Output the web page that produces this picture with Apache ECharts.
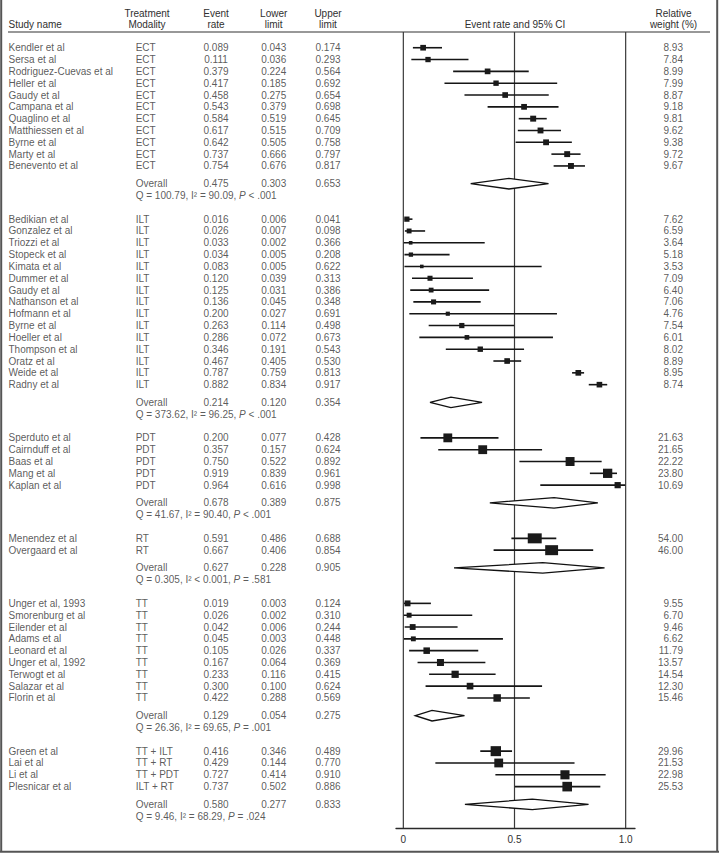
<!DOCTYPE html>
<html><head><meta charset="utf-8">
<script src="https://cdn.jsdelivr.net/npm/echarts@6/dist/echarts.min.js"></script>
<style>html,body{margin:0;padding:0;background:#fff}#c{width:719px;height:853px}</style>
</head><body><div id="c"></div><script>
// ---------- data ----------
const studyNames = [
 'Kendler et al','Sersa et al','Rodriguez-Cuevas et al','Heller et al','Gaudy et al','Campana et al','Quaglino et al','Matthiessen et al','Byrne et al','Marty et al','Benevento et al',
 'Bedikian et al','Gonzalez et al','Triozzi et al','Stopeck et al','Kimata et al','Dummer et al','Gaudy et al','Nathanson et al','Hofmann et al','Byrne et al','Hoeller et al','Thompson et al','Oratz et al','Weide et al','Radny et al',
 'Sperduto et al','Cairnduff et al','Baas et al','Mang et al','Kaplan et al',
 'Menendez et al','Overgaard et al',
 'Unger et al, 1993','Smorenburg et al','Eilender et al','Adams et al','Leonard et al','Unger et al, 1992','Terwogt et al','Salazar et al','Florin et al',
 'Green et al','Lai et al','Li et al','Plesnicar et al'];
const modality = [
 'ECT','ECT','ECT','ECT','ECT','ECT','ECT','ECT','ECT','ECT','ECT',
 'ILT','ILT','ILT','ILT','ILT','ILT','ILT','ILT','ILT','ILT','ILT','ILT','ILT','ILT','ILT',
 'PDT','PDT','PDT','PDT','PDT',
 'RT','RT',
 'TT','TT','TT','TT','TT','TT','TT','TT','TT',
 'TT + ILT','TT + RT','TT + PDT','ILT + RT'];
const eventRate = [
 0.089,0.111,0.379,0.417,0.458,0.543,0.584,0.617,0.642,0.737,0.754,
 0.016,0.026,0.033,0.034,0.083,0.120,0.125,0.136,0.200,0.263,0.286,0.346,0.467,0.787,0.882,
 0.200,0.357,0.750,0.919,0.964,
 0.591,0.667,
 0.019,0.026,0.042,0.045,0.105,0.167,0.233,0.300,0.422,
 0.416,0.429,0.727,0.737];
const lowerLimit = [
 0.043,0.036,0.224,0.185,0.275,0.379,0.519,0.515,0.505,0.666,0.676,
 0.006,0.007,0.002,0.005,0.005,0.039,0.031,0.045,0.027,0.114,0.072,0.191,0.405,0.759,0.834,
 0.077,0.157,0.522,0.839,0.616,
 0.486,0.406,
 0.003,0.002,0.006,0.003,0.026,0.064,0.116,0.100,0.288,
 0.346,0.144,0.414,0.502];
const upperLimit = [
 0.174,0.293,0.564,0.692,0.654,0.698,0.645,0.709,0.758,0.797,0.817,
 0.041,0.098,0.366,0.208,0.622,0.313,0.386,0.348,0.691,0.498,0.673,0.543,0.530,0.813,0.917,
 0.428,0.624,0.892,0.961,0.998,
 0.688,0.854,
 0.124,0.310,0.244,0.448,0.337,0.369,0.415,0.624,0.569,
 0.489,0.770,0.910,0.886];
const relWeight = [
 8.93,7.84,8.99,7.99,8.87,9.18,9.81,9.62,9.38,9.72,9.67,
 7.62,6.59,3.64,5.18,3.53,7.09,6.40,7.06,4.76,7.54,6.01,8.02,8.89,8.95,8.74,
 21.63,21.65,22.22,23.80,10.69,
 54.00,46.00,
 9.55,6.70,9.46,6.62,11.79,13.57,14.54,12.30,15.46,
 29.96,21.53,22.98,25.53];
const groupSizes = [11,15,5,2,9,4];
const overallRate  = [0.475,0.214,0.678,0.627,0.129,0.580];
const overallLower = [0.303,0.120,0.389,0.228,0.054,0.277];
const overallUpper = [0.653,0.354,0.875,0.905,0.275,0.833];
const qStat  = ['100.79','373.62','41.67','0.305','26.36','9.46'];
const i2Stat = ['= 90.09','= 96.25','= 90.40','< 0.001','= 69.65','= 68.29'];
const pStat  = ['< .001','< .001','< .001','= .581','= .001','= .024'];
const xTicks = [0, 0.5, 1.0];
const xTickLabels = ['0','0.5','1.0'];

// ---------- layout ----------
const FONT = '"Liberation Sans", Arial, Helvetica, sans-serif';
const TXT = '#303030';
const COL = {name: 8.5, mod: 135.7, rate: 216, lower: 273.7, upper: 328, weight: 683};
const Y_MIN = -1.33, Y_MAX = 66;
const GRID_TOP = 32, GRID_H = 796;

// row positions (layout)
const studyRow = [], overallRow = [], qRow = [];
let r = 0;
groupSizes.forEach(n => {
  for (let i = 0; i < n; i++) studyRow.push(r++);
  overallRow.push(r + 0.5);
  qRow.push(r + 1.5);
  r += 3.5;
});
const fmt = v => v.toFixed(3);

// text items
const textData = [];
function addText(x, row, text, align) {
  textData.push({value: [x, row], label: {formatter: text, align: align}});
}
studyNames.forEach((n, i) => {
  const row = studyRow[i];
  addText(COL.name, row, n, 'left');
  addText(COL.mod, row, modality[i], 'left');
  addText(COL.rate, row, fmt(eventRate[i]), 'center');
  addText(COL.lower, row, fmt(lowerLimit[i]), 'center');
  addText(COL.upper, row, fmt(upperLimit[i]), 'center');
  addText(COL.weight, row, relWeight[i].toFixed(2), 'right');
});
overallRate.forEach((v, g) => {
  addText(COL.mod, overallRow[g], 'Overall', 'left');
  addText(COL.rate, overallRow[g], fmt(v), 'center');
  addText(COL.lower, overallRow[g], fmt(overallLower[g]), 'center');
  addText(COL.upper, overallRow[g], fmt(overallUpper[g]), 'center');
  addText(COL.mod, qRow[g], '{n|Q = ' + qStat[g] + ', I² ' + i2Stat[g] + ', }{i|P}{n| ' + pStat[g] + '}', 'left');
});

const studyData = eventRate.map((v, i) => [v, lowerLimit[i], upperLimit[i], studyRow[i], relWeight[i]]);
const overallData = overallRate.map((v, g) => [v, overallLower[g], overallUpper[g], overallRow[g]]);

const chart = echarts.init(document.getElementById('c'), null, {renderer: 'svg'});
const T = (x, y, text, align) => ({type: 'text', x: x, y: y,
  style: {text: text, fill: TXT, font: '10px ' + FONT, align: align || 'center', verticalAlign: 'middle'}});
chart.setOption({
  animation: false,
  backgroundColor: '#fff',
  textStyle: {fontFamily: FONT},
  grid: [
    {left: 396, width: 239, top: GRID_TOP, height: GRID_H},
    {left: 0, width: 719, top: GRID_TOP, height: GRID_H}
  ],
  xAxis: [
    {type: 'value', gridIndex: 0, min: -0.033, max: 1.042, position: 'bottom',
     axisLine: {show: true, onZero: false, lineStyle: {color: '#2a2a2a', width: 1.3}},
     axisTick: {show: false}, splitLine: {show: false},
     axisLabel: {customValues: xTicks, formatter: v => xTickLabels[xTicks.indexOf(+(+v).toFixed(2))] ?? '',
       color: TXT, fontSize: 10, fontFamily: FONT, margin: 6}},
    {type: 'value', gridIndex: 1, min: 0, max: 719, show: false}
  ],
  yAxis: [
    {type: 'value', gridIndex: 0, min: Y_MIN, max: Y_MAX, inverse: true, show: false},
    {type: 'value', gridIndex: 1, min: Y_MIN, max: Y_MAX, inverse: true, show: false}
  ],
  series: [
    { // reference lines at 0, 0.5, 1.0
      type: 'custom', xAxisIndex: 0, yAxisIndex: 0, silent: true,
      data: xTicks.map(v => [v]),
      renderItem(params, api) {
        const a = api.coord([api.value(0), Y_MIN]);
        const b = api.coord([api.value(0), Y_MAX]);
        return {type: 'line', shape: {x1: a[0], y1: a[1], x2: b[0], y2: b[1]},
          style: {stroke: '#3a3a3a', lineWidth: 1.2}};
      }
    },
    { // study CI + square
      type: 'custom', xAxisIndex: 0, yAxisIndex: 0, silent: true,
      data: studyData,
      encode: {x: [0, 1, 2], y: 3},
      renderItem(params, api) {
        const y = api.value(3);
        const p0 = api.coord([api.value(1), y]);
        const p1 = api.coord([api.value(2), y]);
        const pc = api.coord([api.value(0), y]);
        const w = 1.9 * Math.sqrt(api.value(4));
        const h = Math.min(w, 10);
        return {type: 'group', children: [
          {type: 'line', shape: {x1: p0[0], y1: p0[1], x2: p1[0], y2: p1[1]}, style: {stroke: '#151515', lineWidth: 1.6}},
          {type: 'rect', shape: {x: pc[0] - w / 2, y: pc[1] - h / 2, width: w, height: h}, style: {fill: '#1a1a1a'}}
        ]};
      }
    },
    { // overall diamonds
      type: 'custom', xAxisIndex: 0, yAxisIndex: 0, silent: true,
      data: overallData,
      encode: {x: [0, 1, 2], y: 3},
      renderItem(params, api) {
        const y = api.value(3);
        const lo = api.coord([api.value(1), y]);
        const hi = api.coord([api.value(2), y]);
        const c = api.coord([api.value(0), y]);
        return {type: 'polygon', shape: {points: [[lo[0], lo[1]], [c[0], c[1] - 5.3], [hi[0], hi[1]], [c[0], c[1] + 5.3]]},
          style: {fill: '#fff', stroke: '#111', lineWidth: 1.3}};
      }
    },
    { // table text
      type: 'scatter', xAxisIndex: 1, yAxisIndex: 1, silent: true,
      symbolSize: 0.1, itemStyle: {color: 'transparent'},
      data: textData,
      label: {show: true, position: 'inside', verticalAlign: 'middle', color: TXT, fontSize: 10, fontFamily: FONT,
        rich: {n: {color: TXT, fontSize: 10, fontFamily: FONT}, i: {color: TXT, fontSize: 10, fontFamily: FONT, fontStyle: 'italic'}}}
    }
  ],
  graphic: [
    T(COL.name, 24.5, 'Study name', 'left'),
    T(147, 13, 'Treatment'), T(147, 24.5, 'Modality'),
    T(COL.rate, 13, 'Event'), T(COL.rate, 24.5, 'rate'),
    T(COL.lower, 13, 'Lower'), T(COL.lower, 24.5, 'limit'),
    T(COL.upper, 13, 'Upper'), T(COL.upper, 24.5, 'limit'),
    T(515, 24.5, 'Event rate and 95% CI'),
    T(673.5, 13, 'Relative'), T(673.5, 24.5, 'weight (%)'),
    {type: 'line', shape: {x1: 8, y1: 32, x2: 710, y2: 32}, style: {stroke: '#333', lineWidth: 1.1}},
    {type: 'line', shape: {x1: 1.2, y1: 0, x2: 1.2, y2: 852}, style: {stroke: '#555', lineWidth: 2}},
    {type: 'line', shape: {x1: 717.2, y1: 0, x2: 717.2, y2: 852}, style: {stroke: '#555', lineWidth: 2}},
    {type: 'line', shape: {x1: 0, y1: 851.8, x2: 719, y2: 851.8}, style: {stroke: '#555', lineWidth: 2}}
  ]
});
</script></body></html>
